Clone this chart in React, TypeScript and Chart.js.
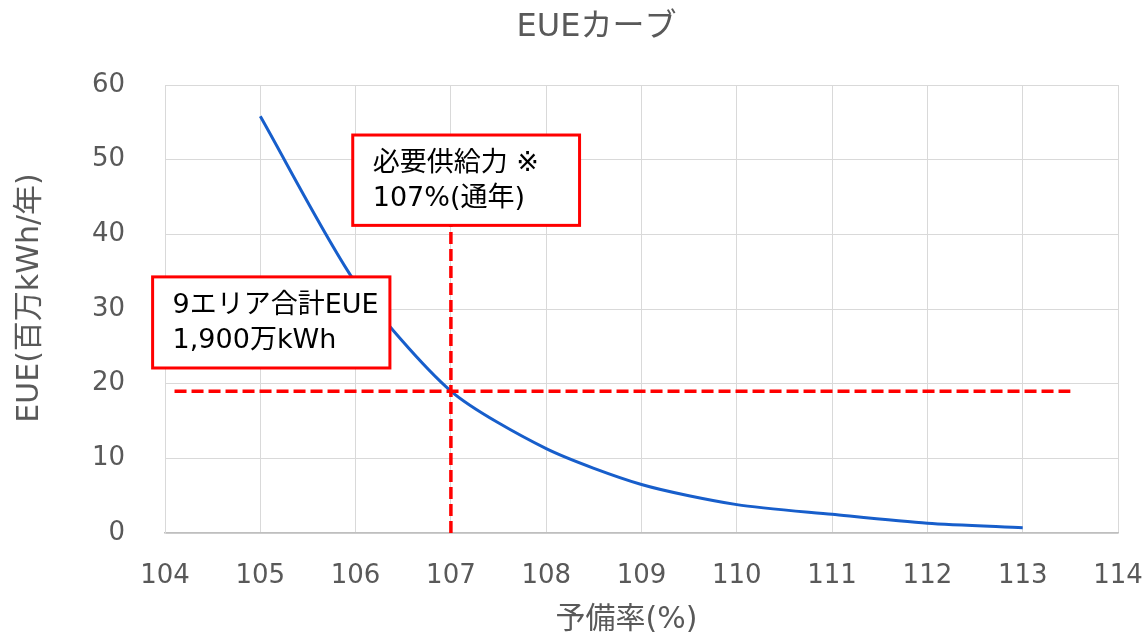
import React, { useEffect, useRef } from "react";
import { Chart, registerables } from "chart.js";

Chart.register(...registerables);

// ---- data ----
const chartTitle = "EUEカーブ";
const xAxisTitle = "予備率(%)";
const yAxisTitle = "EUE(百万kWh/年)";
const reserveMargins = [105, 106, 107, 108, 109, 110, 111, 112, 113];
const eueValues = [55.8, 33.5, 19.0, 11.3, 6.5, 3.8, 2.5, 1.3, 0.7];
const xTickRange = [104, 114];
const yTickRange = [0, 60];
const requiredMargin = 107;
const requiredEUE = 19;
const hLineRange = [104.1, 113.5];
const vLineTop = 41.2;
const noteSupply = ["必要供給力 ※", "107%(通年)"];
const noteEUE = ["9エリア合計EUE", "1,900万kWh"];
// box corners in data units [xLeft, xRight, yTop, yBottom]
const noteSupplyBox = [105.97, 108.35, 53.3, 41.2];
const noteEUEBox = [103.87, 106.36, 34.3, 22.1];

const FONT = "'DejaVu Sans', 'Noto Sans CJK JP', sans-serif";
const GREY = "#595959";

const textPlugin = {
  id: "excelText",
  afterDraw(chart: any) {
    const ctx = chart.ctx;
    const ca = chart.chartArea;
    ctx.save();
    ctx.fillStyle = GREY;
    ctx.textAlign = "center";
    ctx.textBaseline = "middle";
    ctx.font = `32px ${FONT}`;
    ctx.fillText(chartTitle, chart.width / 2 + 24, 28);
    ctx.font = `30px ${FONT}`;
    ctx.fillText(xAxisTitle, (ca.left + ca.right) / 2 - 15, 620);
    ctx.font = `30px ${FONT}`;
    ctx.translate(30, (ca.top + ca.bottom) / 2 - 11);
    ctx.rotate(-Math.PI / 2);
    ctx.fillText(yAxisTitle, 0, 0);
    ctx.restore();
  },
};

const notePlugin = {
  id: "notes",
  afterDatasetsDraw(chart: any) {
    const ctx = chart.ctx;
    const xs = chart.scales.x;
    const ys = chart.scales.y;
    const drawBox = (box: number[], lines: string[]) => {
      const l = xs.getPixelForValue(box[0]);
      const r = xs.getPixelForValue(box[1]);
      const t = ys.getPixelForValue(box[2]);
      const b = ys.getPixelForValue(box[3]);
      ctx.save();
      ctx.fillStyle = "#ffffff";
      ctx.fillRect(l, t, r - l, b - t);
      ctx.strokeStyle = "#ff0000";
      ctx.lineWidth = 3;
      ctx.strokeRect(l, t, r - l, b - t);
      ctx.fillStyle = "#000000";
      ctx.font = `27px ${FONT}`;
      ctx.textAlign = "left";
      ctx.textBaseline = "middle";
      const cy = (t + b) / 2;
      const spacing = 35;
      lines.forEach((s, i) => {
        ctx.fillText(s, l + 20, cy + 1 + (i - (lines.length - 1) / 2) * spacing);
      });
      ctx.restore();
    };
    drawBox(noteSupplyBox, noteSupply);
    drawBox(noteEUEBox, noteEUE);
  },
};

export default function App() {
  const ref = useRef<HTMLCanvasElement>(null);
  useEffect(() => {
    if (!ref.current) return;
    const chart = new Chart(ref.current, {
      type: "line",
      data: {
        datasets: [
          {
            label: "EUE",
            data: reserveMargins.map((x, i) => ({ x, y: eueValues[i] })),
            borderColor: "#175ecb",
            borderWidth: 3,
            pointRadius: 0,
            tension: 0.25,
            order: 1,
          },
          {
            label: "h",
            data: hLineRange.map((x) => ({ x, y: requiredEUE })),
            borderColor: "#ff0000",
            borderWidth: 3.5,
            borderDash: [12, 5],
            pointRadius: 0,
            order: 0,
          },
          {
            label: "v",
            data: [
              { x: requiredMargin, y: 0 },
              { x: requiredMargin, y: vLineTop },
            ],
            borderColor: "#ff0000",
            borderWidth: 3.5,
            borderDash: [12, 5],
            pointRadius: 0,
            order: 0,
          },
        ],
      },
      options: {
        animation: false,
        responsive: false,
        layout: { padding: { left: 0, top: 85, right: 27, bottom: 0 } },
        plugins: {
          legend: { display: false },
          tooltip: { enabled: false },
          title: { display: false },
        },
        scales: {
          x: {
            type: "linear",
            min: xTickRange[0],
            max: xTickRange[1],
            afterFit: (s: any) => {
              s.height = 106;
              s.paddingLeft = 0;
              s.paddingRight = 0;
            },
            ticks: {
              stepSize: 1,
              color: GREY,
              font: { size: 26, family: FONT },
              padding: 28,
              maxRotation: 0,
            },
            grid: { color: "#d9d9d9", lineWidth: 1, drawTicks: false },
            border: { color: "#bfbfbf", width: 1.5 },
          },
          y: {
            type: "linear",
            min: yTickRange[0],
            max: yTickRange[1],
            afterFit: (s: any) => {
              s.width = 165;
            },
            ticks: {
              stepSize: 10,
              color: GREY,
              font: { size: 26, family: FONT },
              padding: 40,
            },
            grid: { color: "#d9d9d9", lineWidth: 1, drawTicks: false },
            border: { color: "#d9d9d9", width: 1 },
          },
        },
      },
      plugins: [textPlugin, notePlugin],
    } as any);
    return () => chart.destroy();
  }, []);
  return (
    <div style={{ position: "absolute", left: 0, top: 0, width: 1145, height: 639, background: "#fff" }}>
      <canvas ref={ref} width={1145} height={639} />
    </div>
  );
}
